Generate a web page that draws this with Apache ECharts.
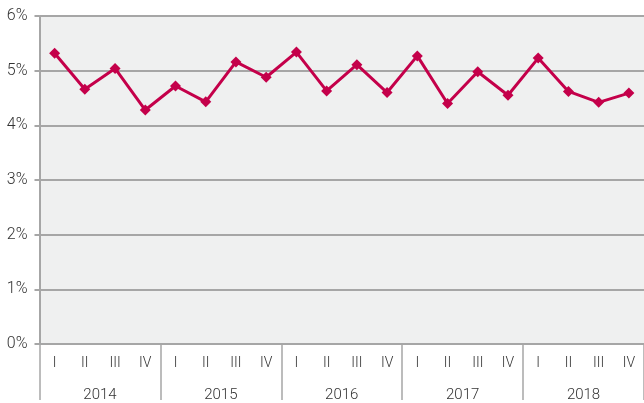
<!DOCTYPE html>
<html>
<head>
<meta charset="utf-8">
<script src="https://cdn.jsdelivr.net/npm/echarts@6/dist/echarts.min.js"></script>
<style>
html,body{margin:0;padding:0;background:#fff;}
#c{width:644px;height:403px;}
</style>
</head>
<body>
<div id="c"></div>
<script>
const quarters = ['I','II','III','IV','I','II','III','IV','I','II','III','IV','I','II','III','IV','I','II','III','IV'];
const years = ['2014','2015','2016','2017','2018'];
const values = [5.32,4.66,5.04,4.28,4.72,4.43,5.16,4.88,5.34,4.63,5.11,4.60,5.27,4.40,4.98,4.55,5.23,4.62,4.42,4.59];
const yTicks = {min:0, max:6, interval:1};

const grey = '#a6a6a6';
const chart = echarts.init(document.getElementById('c'), null, {renderer:'canvas'});
chart.setOption({
  animation:false,
  backgroundColor:'#ffffff',
  grid:{left:39.5, top:16, width:608, height:328, show:true, backgroundColor:'#eff0f0', borderWidth:0, containLabel:false},
  xAxis:[{
    type:'category', data:quarters, boundaryGap:true, position:'bottom',
    axisLine:{show:true, lineStyle:{color:grey, width:2}},
    axisTick:{show:false},
    axisLabel:{interval:0, margin:12, color:'#333', fontSize:14, fontWeight:300, fontFamily:'Roboto'},
    splitLine:{show:false}
  },{
    type:'category', data:years, boundaryGap:true, position:'bottom',
    axisLine:{show:false},
    axisTick:{show:true, interval:0, length:56, lineStyle:{color:grey, width:1.5}},
    axisLabel:{interval:0, margin:44, color:'#333', fontSize:15, fontWeight:300, fontFamily:'Roboto'},
    splitLine:{show:false}
  }],
  yAxis:{
    type:'value', min:yTicks.min, max:yTicks.max, interval:yTicks.interval,
    axisLine:{show:true, lineStyle:{color:grey, width:2}},
    axisTick:{show:true, length:5, lineStyle:{color:grey, width:2}},
    axisLabel:{formatter:'{value}%', margin:12, color:'#333', fontSize:16, fontWeight:300, fontFamily:'Roboto'},
    splitLine:{show:true, lineStyle:{color:grey, width:2}}
  },
  series:[{
    type:'line', xAxisIndex:0, data:values,
    symbol:'diamond', symbolSize:11,
    lineStyle:{color:'#c4004a', width:3},
    itemStyle:{color:'#c4004a'}
  }]
});
</script>
</body>
</html>
